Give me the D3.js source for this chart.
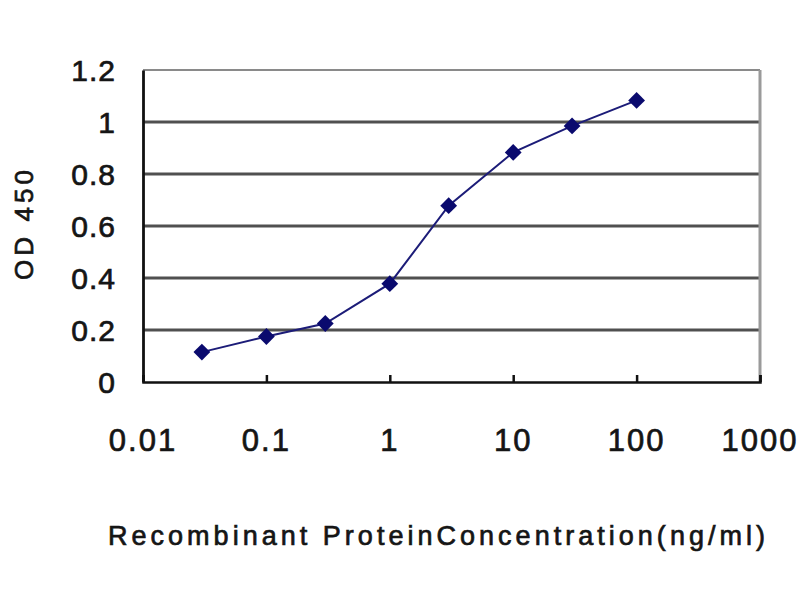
<!DOCTYPE html>
<html>
<head>
<meta charset="utf-8">
<script src="https://cdn.jsdelivr.net/npm/d3@7"></script>
<style>
  html, body { margin: 0; padding: 0; background: #fff; }
  svg { display: block; }
  text { font-family: "Liberation Sans", Arial, sans-serif; fill: #151515; stroke: #151515; stroke-width: 0.7px; }
</style>
</head>
<body>
<svg id="chart" width="800" height="600"></svg>
<script>
// Data
const concentrations = [0.03, 0.1, 0.3, 1, 3, 10, 30, 100];
const odValues = [0.115, 0.175, 0.225, 0.378, 0.678, 0.883, 0.985, 1.083];
const xTickValues = [0.01, 0.1, 1, 10, 100, 1000];
const xTickLabels = ["0.01", "0.1", "1", "10", "100", "1000"];
const yTickValues = [0, 0.2, 0.4, 0.6, 0.8, 1, 1.2];
const yTickLabels = ["0", "0.2", "0.4", "0.6", "0.8", "1", "1.2"];
const xTitle = "Recombinant ProteinConcentration(ng/ml)";
const yTitle = "OD 450";

const svg = d3.select("#chart");
const plotLeft = 143, plotRight = 760, plotTop = 70, plotBottom = 382;

const x = d3.scaleLog().domain([0.01, 1000]).range([plotLeft, plotRight]);
const y = d3.scaleLinear().domain([0, 1.2]).range([plotBottom, plotTop]);

// Gridlines
svg.append("g").selectAll("line")
  .data(yTickValues.filter(v => v > 0 && v < 1.2))
  .join("line")
  .attr("x1", plotLeft).attr("x2", plotRight)
  .attr("y1", d => y(d)).attr("y2", d => y(d))
  .attr("stroke", "#505050").attr("stroke-width", 3.2);

// Top and right border (gray)
svg.append("line").attr("x1", plotLeft).attr("x2", plotRight).attr("y1", plotTop).attr("y2", plotTop)
  .attr("stroke", "#8a8a8a").attr("stroke-width", 2);
svg.append("line").attr("x1", plotRight).attr("x2", plotRight).attr("y1", plotTop).attr("y2", plotBottom)
  .attr("stroke", "#9a9a9a").attr("stroke-width", 3);

// Bottom axis with inner ticks
const xAxis = d3.axisBottom(x).tickValues(xTickValues).tickSize(-7).tickFormat("");
const gx = svg.append("g").attr("transform", `translate(0,${plotBottom})`).call(xAxis);
gx.select(".domain").attr("stroke", "#111").attr("stroke-width", 2.5);
gx.selectAll(".tick line").attr("stroke", "#111").attr("stroke-width", 2.5);

// Left axis
const yAxis = d3.axisLeft(y).tickValues(yTickValues).tickSize(0).tickFormat("");
const gy = svg.append("g").attr("transform", `translate(${plotLeft},0)`).call(yAxis);
gy.select(".domain").attr("stroke", "#111").attr("stroke-width", 2.8);

// Y tick labels
svg.append("g").selectAll("text")
  .data(yTickValues)
  .join("text")
  .attr("x", 116)
  .attr("y", d => y(d) + 11)
  .attr("text-anchor", "end")
  .attr("font-size", 30)
  .attr("letter-spacing", 1)
  .text((d, i) => yTickLabels[i]);

// X tick labels
svg.append("g").selectAll("text")
  .data(xTickValues)
  .join("text")
  .attr("x", d => x(d))
  .attr("y", 451)
  .attr("text-anchor", "middle")
  .attr("font-size", 31)
  .attr("letter-spacing", 2)
  .text((d, i) => xTickLabels[i]);

// Axis titles
svg.append("text")
  .attr("x", 108).attr("y", 545)
  .attr("font-size", 27)
  .attr("textLength", 657).attr("lengthAdjust", "spacing")
  .text(xTitle);

svg.append("text")
  .attr("transform", "translate(33,280) rotate(-90)")
  .attr("font-size", 26)
  .attr("textLength", 110).attr("lengthAdjust", "spacing")
  .text(yTitle);

// Series
const pts = concentrations.map((c, i) => ({c, v: odValues[i]}));
const line = d3.line().x(d => x(d.c)).y(d => y(d.v));
svg.append("path").datum(pts)
  .attr("d", line)
  .attr("fill", "none")
  .attr("stroke", "#1c1c78")
  .attr("stroke-width", 2);

const diamond = d3.symbol().type(d3.symbolDiamond2).size(180);
svg.append("g").selectAll("path")
  .data(pts)
  .join("path")
  .attr("transform", d => `translate(${x(d.c)},${y(d.v)})`)
  .attr("d", diamond)
  .attr("fill", "#0a0a6e");
</script>
</body>
</html>
